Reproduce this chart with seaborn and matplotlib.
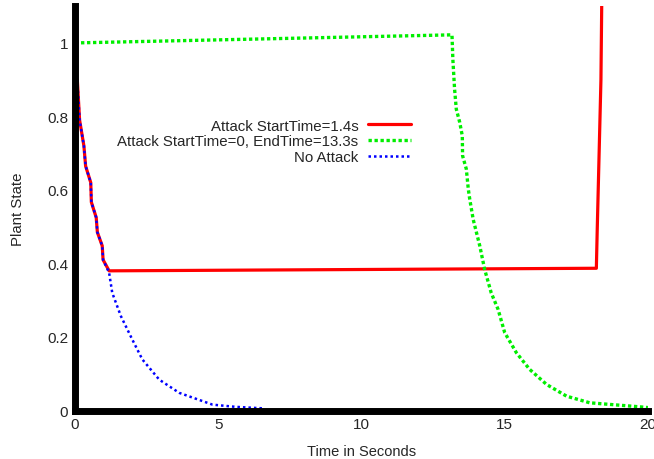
import matplotlib
matplotlib.use("Agg")
import matplotlib.pyplot as plt
import pandas as pd
import seaborn as sns

# values
red_t = [0.08, 0.16, 0.31, 0.37, 0.55, 0.57, 0.74, 0.78, 0.95, 0.98, 1.19,
         18.2, 18.23, 18.36, 18.40]
red_v = [0.90, 0.79, 0.72, 0.665, 0.62, 0.567, 0.525, 0.485, 0.448, 0.41, 0.38,
         0.387, 0.49, 0.90, 1.20]

blue_t = [0.08, 0.16, 0.31, 0.37, 0.55, 0.57, 0.74, 0.78, 0.95, 0.98, 1.19,
          1.30, 1.60, 2.0, 2.35, 2.94, 3.64, 4.8, 5.6, 6.55]
blue_v = [0.90, 0.79, 0.72, 0.665, 0.62, 0.567, 0.525, 0.485, 0.448, 0.41, 0.375,
          0.32, 0.257, 0.193, 0.139, 0.084, 0.048, 0.016, 0.010, 0.006]

green_t = [0, 13.16, 13.19, 13.25, 13.31, 13.43, 13.52, 13.53, 13.66, 13.73, 13.78,
           13.9, 14.13, 14.30, 14.53, 14.77, 15.0, 15.41, 15.87, 16.46, 17.16,
           17.97, 19.72, 20]
green_v = [1.0, 1.022, 0.956, 0.875, 0.82, 0.784, 0.747, 0.693, 0.657, 0.602, 0.575,
           0.52, 0.448, 0.384, 0.32, 0.275, 0.212, 0.157, 0.112, 0.071, 0.039,
           0.021, 0.010, 0.008]

labels = ["Attack StartTime=1.4s", "Attack StartTime=0, EndTime=13.3s", "No Attack"]
x_ticks = [0, 5, 10, 15, 20]
y_ticks = [0, 0.2, 0.4, 0.6, 0.8, 1]

sns.set_style("white")
plt.rcParams['font.family'] = ['Liberation Sans', 'DejaVu Sans']

red = pd.DataFrame({"t": red_t, "v": red_v})
green = pd.DataFrame({"t": green_t, "v": green_v})
blue = pd.DataFrame({"t": blue_t, "v": blue_v})

fig = plt.figure(figsize=(6.54, 4.60), dpi=100)
ax = fig.add_axes([0.1147, 0.1054, 0.876, 0.879])

sns.lineplot(data=red, x="t", y="v", ax=ax, color="#ff0000", linewidth=2.3,
             estimator=None, sort=False, label=labels[0])
sns.lineplot(data=green, x="t", y="v", ax=ax, color="#00ee00", linewidth=2.4,
             estimator=None, sort=False, label=labels[1], dashes=(1, 0.8))
sns.lineplot(data=blue, x="t", y="v", ax=ax, color="#0000ff", linewidth=1.8,
             estimator=None, sort=False, label=labels[2], dashes=(1, 1.2))

ax.set_xlim(0, 20)
ax.set_ylim(0, 1.1)
ax.set_xticks(x_ticks)
ax.set_xticklabels([str(v) for v in x_ticks])
ax.set_yticks(y_ticks)
ax.set_yticklabels(["0", "0.2", "0.4", "0.6", "0.8", "1"])

for side in ["top", "right"]:
    ax.spines[side].set_visible(False)
for side in ["left", "bottom"]:
    ax.spines[side].set_linewidth(5)
    ax.spines[side].set_color("black")

ax.tick_params(direction="in", length=3.6, width=2, color="black",
               labelsize=11, pad=5)
ax.set_xlabel("Time in Seconds", fontsize=10.5, labelpad=9)
ax.set_ylabel("Plant State", fontsize=10.8, labelpad=16)

ax.legend(loc="upper right", bbox_to_anchor=(0.597, 0.737), frameon=False,
          markerfirst=False, fontsize=10.8, handlelength=2.9, handletextpad=0.6,
          labelspacing=0.12, borderaxespad=0)

fig.savefig("out.png", dpi=100)
